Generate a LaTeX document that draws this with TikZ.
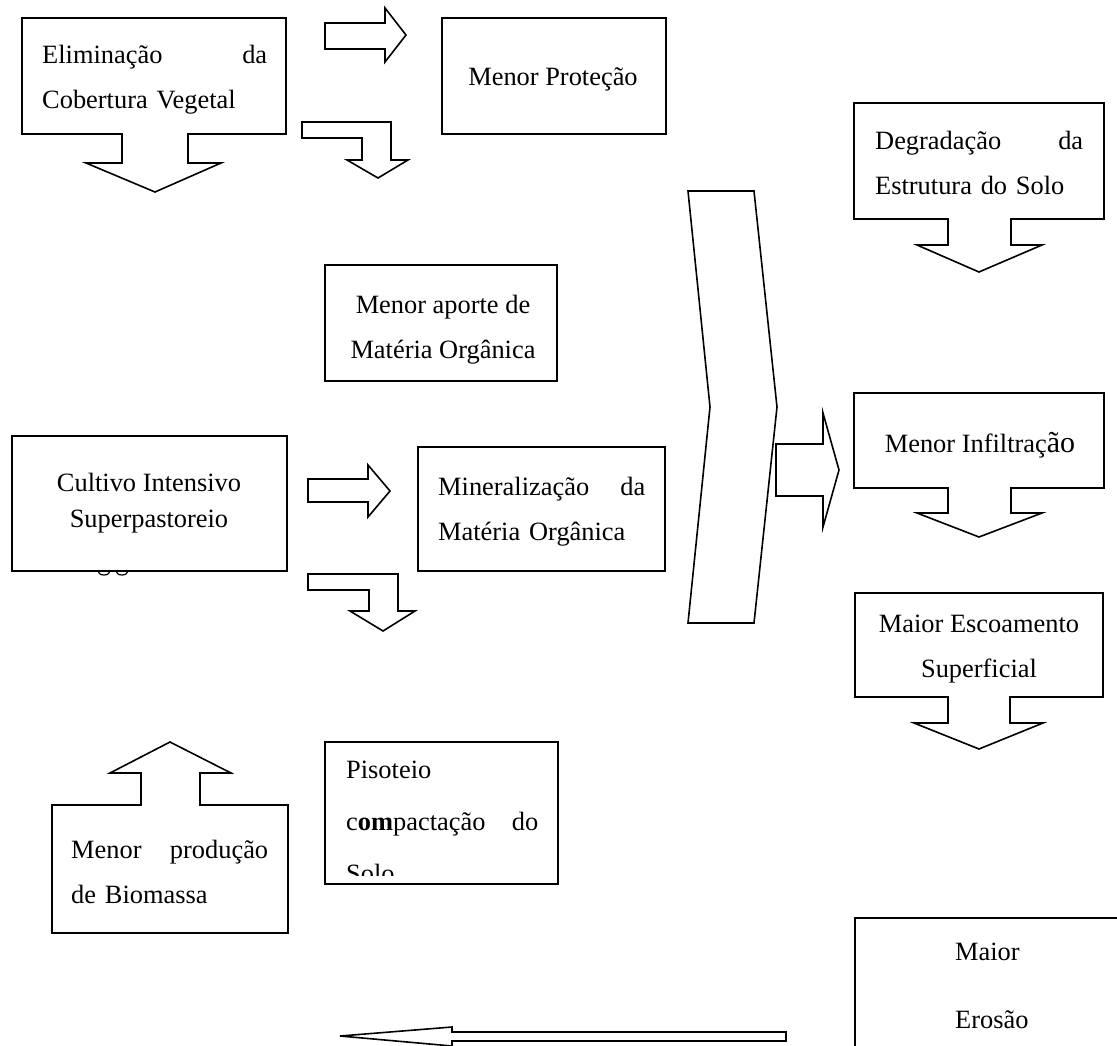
\documentclass[tikz,border=0pt]{standalone}
\usepackage{fontspec}
\setmainfont{Liberation Serif}
\tikzset{
  blk/.style={draw, line width=1.6pt, fill=white, line join=miter},
  lbl/.style={inner sep=0pt, font=\fontsize{26.4}{45}\selectfont},
}
\begin{document}
\begin{tikzpicture}[x=1pt, y=-1pt]
  \useasboundingbox (0,0) rectangle (1117,1045);
  \clip (0,0) rectangle (1117,1045);
  % caixas com seta
  \draw [blk] (22,18) -- (286,18) -- (286,134) -- (188,134) -- (188,163) -- (221,163)
    -- (155,192) -- (86,163) -- (122,163) -- (122,134) -- (22,134) -- cycle;
  \draw [blk] (854,103) -- (1104,103) -- (1104,219) -- (1011,219) -- (1011,245) -- (1042,245)
    -- (979,272) -- (917,245) -- (948,245) -- (948,219) -- (854,219) -- cycle;
  \draw [blk] (854,393) -- (1104,393) -- (1104,488) -- (1011,488) -- (1011,513) -- (1042,513)
    -- (979,537) -- (917,513) -- (948,513) -- (948,488) -- (854,488) -- cycle;
  \draw [blk] (855,593) -- (1103,593) -- (1103,697) -- (1010,697) -- (1010,723) -- (1043,723)
    -- (979,749) -- (914,723) -- (948,723) -- (948,697) -- (855,697) -- cycle;
  \draw [blk] (52,933) -- (52,805) -- (141,805) -- (141,773) -- (110,773) -- (170,742)
    -- (231,773) -- (200,773) -- (200,805) -- (288,805) -- (288,933) -- cycle;
  % caixas simples
  \draw [blk] (442,18) rectangle (666,134);
  \draw [blk] (325,265) rectangle (557,381);
  \draw [line width=1.2pt] (98,571) arc [start angle=180, end angle=0, x radius=6, y radius=4]
                           (116,571) arc [start angle=180, end angle=0, x radius=6, y radius=4];
  \draw [blk] (12,436) rectangle (287,571);
  \draw [blk] (418,447) rectangle (665,571);
  \draw [blk] (325,742) rectangle (558,884);
  \draw [blk] (855,918) rectangle (1125,1060);
  % setas
  \draw [blk] (325,23) -- (385,23) -- (385,8) -- (406,35) -- (385,62) -- (385,49) -- (325,49) -- cycle;
  \draw [blk] (308,479) -- (368,479) -- (368,465) -- (390,491) -- (368,517) -- (368,502) -- (308,502) -- cycle;
  \draw [blk] (776,444) -- (823,444) -- (823,413) -- (839,470) -- (823,527) -- (823,496) -- (776,496) -- cycle;
  \draw [blk] (302,122) -- (391,122) -- (391,160) -- (408,160) -- (378,178) -- (347,160)
    -- (362,160) -- (362,138) -- (302,138) -- cycle;
  \draw [blk] (308,574) -- (398,574) -- (398,611) -- (415,611) -- (383,631) -- (350,611)
    -- (369,611) -- (369,590) -- (308,590) -- cycle;
  \draw [blk] (688,191) -- (754,191) -- (777,407) -- (754,623) -- (688,623) -- (710,407) -- cycle;
  \draw [blk] (786,1032) -- (452,1032) -- (452,1027) -- (340,1036) -- (452,1046) -- (452,1041)
    -- (786,1041) -- cycle;
  % textos
  \node (elim) [lbl, anchor=base west, text width=225pt, align=left] at (42,63)
    {Eliminação\hfill da\\Cobertura Vegetal};
  \node (prot) [lbl, anchor=base] at (553,85) {Menor Proteção};
  \node (degr) [lbl, anchor=base west, text width=208pt, align=left] at (875,149)
    {Degradação\hfill da\\Estrutura do Solo};
  \node (apor) [lbl, anchor=base, align=center] at (443,358) {Menor aporte de\\Matéria Orgânica};
  \node (cult) [lbl, anchor=base, align=center, font=\fontsize{26.4}{36}\selectfont] at (149,527)
    {Cultivo Intensivo\\Superpastoreio};
  \node (mine) [lbl, anchor=base west, text width=207pt, align=left] at (438,495)
    {Mineralização\hfill da\\Matéria Orgânica};
  \node (infi) [lbl, anchor=base] at (980,452) {Menor Infiltraç{\fontsize{30}{45}\selectfont ão}};
  \node (esco) [lbl, anchor=base, align=center] at (979,677) {Maior Escoamento\\Superficial};
  \begin{scope}
    \clip (325,742) rectangle (558,875);
    \node (piso) [lbl, anchor=base west, text width=192pt, align=left,
      font=\fontsize{26.4}{52}\selectfont] at (346,778)
      {Pisoteio\\c\textbf{om}pactação\hfill do\\Solo};
  \end{scope}
  \node (biom) [lbl, anchor=base west, text width=197pt, align=left] at (71,858)
    {Menor\hfill produção\\de Biomassa};
  \node (eros) [lbl, anchor=base west, align=left, font=\fontsize{26.4}{68}\selectfont] at (955,1028)
    {Maior\\Erosão};
\end{tikzpicture}
\end{document}
